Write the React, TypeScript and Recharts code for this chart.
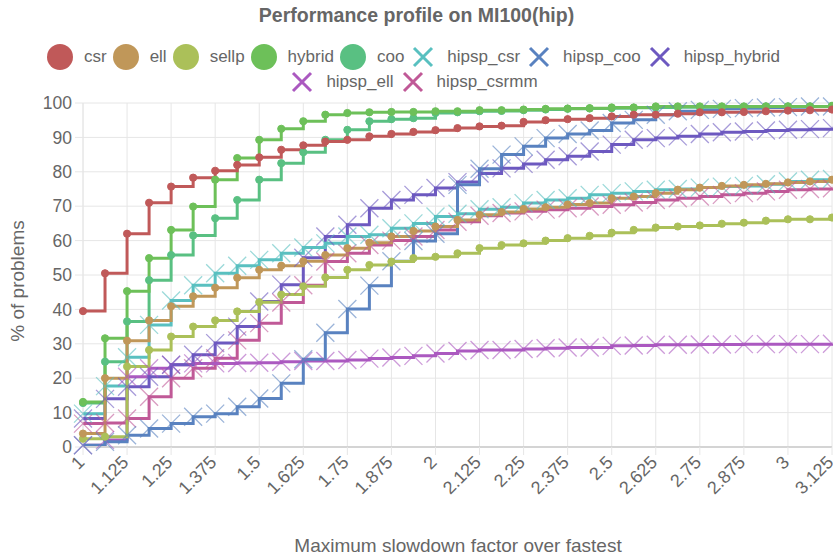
import React from 'react';
import { LineChart, Line, XAxis, YAxis, CartesianGrid } from 'recharts';

const slowdown = [
  1, 1.0625, 1.125, 1.1875, 1.25, 1.3125, 1.375, 1.4375, 1.5, 1.5625, 1.625, 1.6875,
  1.75, 1.8125, 1.875, 1.9375, 2, 2.0625, 2.125, 2.1875, 2.25, 2.3125, 2.375, 2.4375,
  2.5, 2.5625, 2.625, 2.6875, 2.75, 2.8125, 2.875, 2.9375, 3, 3.0625, 3.125,
];
const xTicks = [1, 1.125, 1.25, 1.375, 1.5, 1.625, 1.75, 1.875, 2, 2.125, 2.25, 2.375, 2.5, 2.625, 2.75, 2.875, 3, 3.125];
const yTicks = [0, 10, 20, 30, 40, 50, 60, 70, 80, 90, 100];

const csr = [39.5, 50.5, 62, 71, 75.7, 78.3, 80.3, 82, 84.2, 86.4, 87.7, 88.8, 89.3, 90.3, 91, 91.6, 92.1, 92.7, 93.2, 93.4, 94.5, 95, 95.3, 95.6, 96.1, 96.6, 96.6, 96.9, 97.3, 97.3, 97.4, 97.6, 97.8, 97.9, 98.1];
const ell = [3.9, 20, 30.9, 36.8, 40.9, 43.8, 46.3, 49.2, 51.5, 52.7, 54, 55.8, 57.8, 59.4, 61.2, 62.8, 64.1, 66, 67.5, 68.3, 69.2, 69.7, 70.5, 70.9, 72.3, 72.8, 73.8, 74.8, 75.4, 75.9, 76.2, 76.5, 76.9, 77.2, 77.7];
const sellp = [2.4, 3, 23.4, 28.2, 32.1, 35, 36.8, 39.4, 42.1, 44.3, 46.7, 49.3, 51.5, 52.9, 53.9, 54.9, 55.3, 56.3, 57.8, 58.7, 59.2, 60, 60.7, 61.4, 62.3, 63.1, 63.8, 64.1, 64.4, 64.9, 65.2, 65.8, 66.2, 66.2, 66.7];
const hybrid = [13.1, 31.6, 45.3, 54.9, 63.1, 69.9, 77.7, 84, 89.3, 92.5, 94.7, 96.6, 97.1, 97.3, 97.4, 97.4, 97.6, 97.6, 97.9, 97.9, 98.1, 98.3, 98.4, 98.5, 98.7, 98.7, 99, 99, 99, 99, 99, 99, 99, 99, 99.2];
const coo = [12.8, 24.8, 36.5, 48.5, 55.8, 61.5, 66.5, 71.8, 77.7, 82.5, 85.7, 89.3, 92.2, 94.7, 95.3, 95.6, 97.1, 97.3, 97.6, 97.7, 97.9, 98.1, 98.3, 98.4, 98.5, 98.6, 98.7, 98.8, 98.8, 98.9, 98.9, 99, 99, 99, 99.1];
const hipspCsr = [9.7, 17.7, 26.1, 35.5, 42.6, 47, 50.5, 52.7, 54.4, 56.3, 58, 59.2, 61.2, 61.7, 63.6, 65, 67, 67.8, 69.1, 69.7, 70.9, 71.8, 72.3, 73.3, 73.8, 74.3, 74.8, 75, 75.4, 75.7, 75.9, 76.4, 77.2, 77.7, 77.9];
const hipspCoo = [0.5, 1.5, 3.4, 5.4, 6.8, 8.8, 9.7, 11.7, 14.1, 18.5, 25.5, 33.2, 40.1, 46.9, 54, 59.9, 62, 76.2, 80.9, 85, 87.4, 89.8, 91, 92, 94.2, 95.1, 96.6, 97.6, 98, 98.3, 98.5, 98.7, 98.8, 99, 99];
const hipspHybrid = [8.3, 14, 17.5, 20.4, 23.9, 26.8, 30.2, 35, 42.3, 47.2, 55, 61.2, 64.6, 69.4, 71.8, 73.3, 75.3, 77, 79.5, 81, 82.3, 83.5, 84.5, 85.9, 87.9, 89.3, 89.8, 90.3, 91, 91.5, 91.7, 92, 92.2, 92.4, 92.7];
const hipspEll = [0.5, 2, 20.4, 22.9, 23.9, 24.3, 24.3, 24.4, 24.5, 24.8, 25, 25, 25.3, 25.7, 26, 26.5, 27.2, 27.9, 28.2, 28.2, 28.5, 28.7, 28.9, 28.9, 29.4, 29.5, 29.7, 29.7, 29.8, 29.8, 29.9, 29.9, 29.9, 29.9, 30];
const hipspCsrmm = [6.8, 7, 8.3, 14.6, 20, 22.9, 25.8, 31, 36, 42, 47, 53.9, 56.3, 58.7, 60, 61.2, 63.1, 65.5, 67.2, 68, 68.5, 69, 69.4, 69.9, 70.4, 71.1, 71.8, 72.3, 72.8, 73.3, 73.8, 74.3, 74.8, 75, 75.2];

const series = [
  { key: 'csr', values: csr, color: '#c05959', shape: 'circle' },
  { key: 'ell', values: ell, color: '#c09759', shape: 'circle' },
  { key: 'sellp', values: sellp, color: '#abc059', shape: 'circle' },
  { key: 'hybrid', values: hybrid, color: '#6dc059', shape: 'circle' },
  { key: 'coo', values: coo, color: '#59c082', shape: 'circle' },
  { key: 'hipsp_csr', values: hipspCsr, color: '#59c0c0', shape: 'cross' },
  { key: 'hipsp_coo', values: hipspCoo, color: '#5982c0', shape: 'cross' },
  { key: 'hipsp_hybrid', values: hipspHybrid, color: '#6d59c0', shape: 'cross' },
  { key: 'hipsp_ell', values: hipspEll, color: '#ab59c0', shape: 'cross' },
  { key: 'hipsp_csrmm', values: hipspCsrmm, color: '#c05997', shape: 'cross' },
];

const data = slowdown.map((x, i) => {
  const row: Record<string, number> = { x };
  series.forEach((s) => {
    row[s.key] = s.values[i];
  });
  return row;
});

const FONT = '"Liberation Sans", Arial, Helvetica, sans-serif';
const TEXT = '#666';

const makeDot = (color: string, shape: string) => (props: any) => {
  const { cx, cy, index } = props;
  if (cx == null || cy == null) return <g key={index} />;
  if (shape === 'circle') {
    return <circle key={index} cx={cx} cy={cy} r={3.6} fill={color} stroke={color} strokeWidth={1} />;
  }
  const d = 9;
  return (
    <path
      key={index}
      d={`M${cx - d},${cy - d}L${cx + d},${cy + d}M${cx - d},${cy + d}L${cx + d},${cy - d}`}
      stroke={color}
      strokeOpacity={0.6}
      strokeWidth={1.3}
      fill="none"
    />
  );
};

const XTick = ({ x, y, payload }: any) => (
  <g transform={`translate(${x - 2},${y + 2})`}>
    <text textAnchor="end" fontSize={18} fill={TEXT} fontFamily={FONT} dy="0.35em" transform="rotate(-45)">
      {payload.value}
    </text>
  </g>
);

const LegendMarker = ({ color, shape }: { color: string; shape: string }) => (
  <svg width={26} height={26} style={{ display: 'block' }}>
    {shape === 'circle' ? (
      <circle cx={13} cy={13} r={13} fill={color} />
    ) : (
      <path d="M4,4L22,22M4,22L22,4" stroke={color} strokeWidth={3} />
    )}
  </svg>
);

const LegendRow = ({ items, top }: { items: typeof series; top: number }) => (
  <div
    style={{
      position: 'absolute',
      top,
      left: 0,
      width: 833,
      display: 'flex',
      justifyContent: 'center',
      alignItems: 'center',
    }}
  >
    {items.map((s) => (
      <div key={s.key} style={{ display: 'flex', alignItems: 'center', marginRight: 6 }}>
        <LegendMarker color={s.color} shape={s.shape} />
        <span style={{ marginLeft: 11, fontSize: 17, color: TEXT, fontFamily: FONT }}>{s.key}</span>
      </div>
    ))}
  </div>
);

const App = () => {
  return (
    <div style={{ position: 'relative', width: 833, height: 556, background: '#fff', fontFamily: FONT }}>
      <style>{'body{margin:0}'}</style>
      <div
        style={{
          position: 'absolute',
          top: 4,
          left: 0,
          width: 833,
          textAlign: 'center',
          fontSize: 19.5,
          fontWeight: 'bold',
          color: TEXT,
        }}
      >
        Performance profile on MI100(hip)
      </div>
      <LegendRow items={series.slice(0, 8)} top={44} />
      <LegendRow items={series.slice(8)} top={69} />
      <LineChart width={833} height={556} data={data} margin={{ top: 103, right: 1, left: 0, bottom: 0 }}>
        <CartesianGrid stroke="#e6e6e6" />
        <XAxis
          dataKey="x"
          type="number"
          domain={[1, 3.125]}
          ticks={xTicks}
          interval={0}
          height={109}
          tick={<XTick />}
          tickSize={8}
          tickMargin={2}
          tickLine={{ stroke: '#e6e6e6' }}
          axisLine={{ stroke: '#d4d4d4', strokeWidth: 2 }}
        />
        <YAxis
          type="number"
          domain={[0, 100]}
          ticks={yTicks}
          interval={0}
          width={83}
          tickSize={8}
          tickMargin={3}
          tickLine={{ stroke: '#e6e6e6' }}
          axisLine={{ stroke: '#e6e6e6' }}
          tick={{ fontSize: 17.5, fill: TEXT, fontFamily: FONT }}
        />
        {[...series].reverse().map((s) => (
          <Line
            key={s.key}
            dataKey={s.key}
            type="stepAfter"
            stroke={s.color}
            strokeWidth={3}
            dot={makeDot(s.color, s.shape)}
            activeDot={false}
            isAnimationActive={false}
          />
        ))}
      </LineChart>
      <div
        style={{
          position: 'absolute',
          left: 18,
          top: 281,
          transform: 'translate(-50%, -50%) rotate(-90deg)',
          whiteSpace: 'nowrap',
          fontSize: 19,
          color: TEXT,
        }}
      >
        % of problems
      </div>
      <div
        style={{
          position: 'absolute',
          left: 458,
          top: 546,
          transform: 'translate(-50%, -50%)',
          whiteSpace: 'nowrap',
          fontSize: 19,
          color: TEXT,
        }}
      >
        Maximum slowdown factor over fastest
      </div>
    </div>
  );
};

export default App;
